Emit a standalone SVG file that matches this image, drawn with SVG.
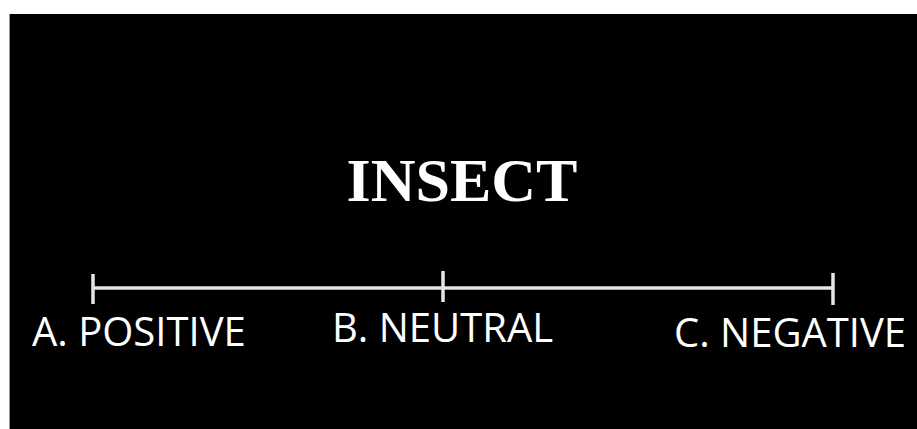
<svg xmlns="http://www.w3.org/2000/svg" width="917" height="429" viewBox="0 0 917 429">
<style>
.lbl{font-family:"Open Sans","Liberation Sans",sans-serif;font-size:40px;fill:#ffffff}
.title{font-family:"Liberation Serif","Times New Roman",serif;font-weight:bold;font-size:62px;fill:#ffffff}
.ln{stroke:#e6e6e6;stroke-width:3.5;fill:none}
</style>
<rect x="0" y="0" width="917" height="429" fill="#ffffff"/>
<rect x="9" y="14" width="908" height="415" fill="#000000"/>
<line x1="9.5" y1="14" x2="9.5" y2="429" stroke="#999" stroke-width="1"/>
<g id="title"><text class="title" x="462" y="201" text-anchor="middle">INSECT</text></g>
<g id="connectors">
<line class="ln" x1="92" y1="288" x2="834" y2="288"/>
<line class="ln" x1="93" y1="274" x2="93" y2="304"/>
<line class="ln" x1="443" y1="271" x2="443" y2="302"/>
<line class="ln" x1="833" y1="273" x2="833" y2="305"/>
</g>
<g id="positive"><text class="lbl" x="32" y="346">A. POSITIVE</text></g>
<g id="neutral"><text class="lbl" x="332" y="342">B. NEUTRAL</text></g>
<g id="negative"><text class="lbl" x="674" y="347">C. NEGATIVE</text></g>
</svg>
